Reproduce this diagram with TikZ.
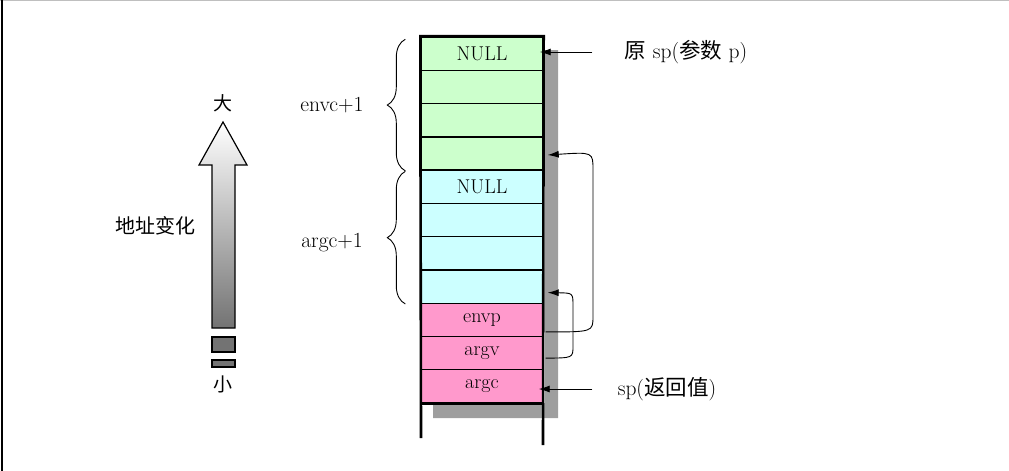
\documentclass[tikz,border=0pt]{standalone}
\usepackage{fontspec}
\newfontfamily\cjk{Noto Sans CJK SC}
\usetikzlibrary{arrows.meta,decorations.pathreplacing}
\definecolor{envcol}{HTML}{CCFFCC}
\definecolor{argcol}{HTML}{CCFFFF}
\definecolor{stkcol}{HTML}{FF99CC}
\begin{document}
\begin{tikzpicture}[x=1pt,y=-1pt,
    cell/.style={draw,line width=1.4pt,minimum width=122pt,minimum height=33.27pt,inner sep=0pt,font=\fontsize{20}{22}\selectfont},
    lbl/.style={font=\fontsize{21.5}{23}\selectfont},
    ptr/.style={-{Latex[length=11pt,width=7pt]},line width=0.9pt}]
    \useasboundingbox (0,0) rectangle (1009,471);
    \draw[gray!50,line width=1.5pt](0,0.5)--(1009,0.5);
    \draw[line width=1.5pt](2,0)--(2,471);
    % shadow
    \fill[black!38](545,50)--(558,50)--(558,418)--(433,418)--(433,403)--(545,403)--cycle;
    % stack cells
    \node[cell,fill=envcol](env0)at(482,53.6){NULL};
    \node[cell,fill=envcol](env1)at(482,86.9){};
    \node[cell,fill=envcol](env2)at(482,120.2){};
    \node[cell,fill=envcol](env3)at(482,153.5){};
    \node[cell,fill=argcol](arg0)at(482,186.7){NULL};
    \node[cell,fill=argcol](arg1)at(482,220.0){};
    \node[cell,fill=argcol](arg2)at(482,253.3){};
    \node[cell,fill=argcol](arg3)at(482,286.6){};
    \node[cell,fill=stkcol](envp)at(482,319.9){envp};
    \node[cell,fill=stkcol](argv)at(482,353.1){argv};
    \node[cell,fill=stkcol](argc)at(482,386.4){argc};
    \draw[line width=2.6pt](421,438)--(env0.north west)--(env0.north east)--(543,445);
    \draw[line width=1.6pt](argc.south west)--(argc.south east);
    % braces
    \draw[decorate,decoration={brace,amplitude=18pt},line width=0.9pt]([xshift=-15pt]env3.south west)--([xshift=-15pt,yshift=-3pt]env0.north west);
    \draw[decorate,decoration={brace,amplitude=18pt},line width=0.9pt]([xshift=-15pt]arg3.south west)--([xshift=-15pt,yshift=-2pt]arg0.north west);
    \node[lbl](envc)at(332,105){envc+1};
    \node[lbl](argcn)at(332,243){argc+1};
    % sp pointers
    \node[lbl](sporig)at(686,52){{\cjk 原} sp({\cjk 参数} p)};
    \node[lbl](spret)at(667,389){sp({\cjk 返回值})};
    \draw[ptr,shorten >=-4pt]([xshift=-29pt]sporig.west)--(sporig.west -| env0.east);
    \draw[ptr,shorten >=-5pt]([xshift=-22pt]spret.west)--(spret.west -| argc.east);
    \draw[ptr]([xshift=2pt,yshift=-12pt]envp.east)..controls(593,332)..(593,316)--(593,170)..controls(593,152)..([xshift=4pt,yshift=-1.5pt]env3.east);
    \draw[ptr]([xshift=2pt,yshift=-5pt]argv.east)..controls(573,358)..(573,346)--(573,306)..controls(573,293)..([xshift=4pt,yshift=-6pt]arg3.east);
    % address direction
    \shadedraw[top color=white,bottom color=black!55,line width=1.2pt](223,122)--(247,165)--(235,165)--(235,328)--(212,328)--(212,165)--(199,165)--cycle;
    \filldraw[fill=black!55,line width=1.2pt](212,337)rectangle(235,352);
    \filldraw[fill=black!55,line width=1.2pt](212,360)rectangle(235,367);
    \node[font=\fontsize{19}{20}\cjk](big)at(223,103){大};
    \node[font=\fontsize{19}{20}\cjk](small)at(223,384){小};
    \node[font=\fontsize{20}{20}\cjk](addr)at(155,226){地址变化};
\end{tikzpicture}
\end{document}
